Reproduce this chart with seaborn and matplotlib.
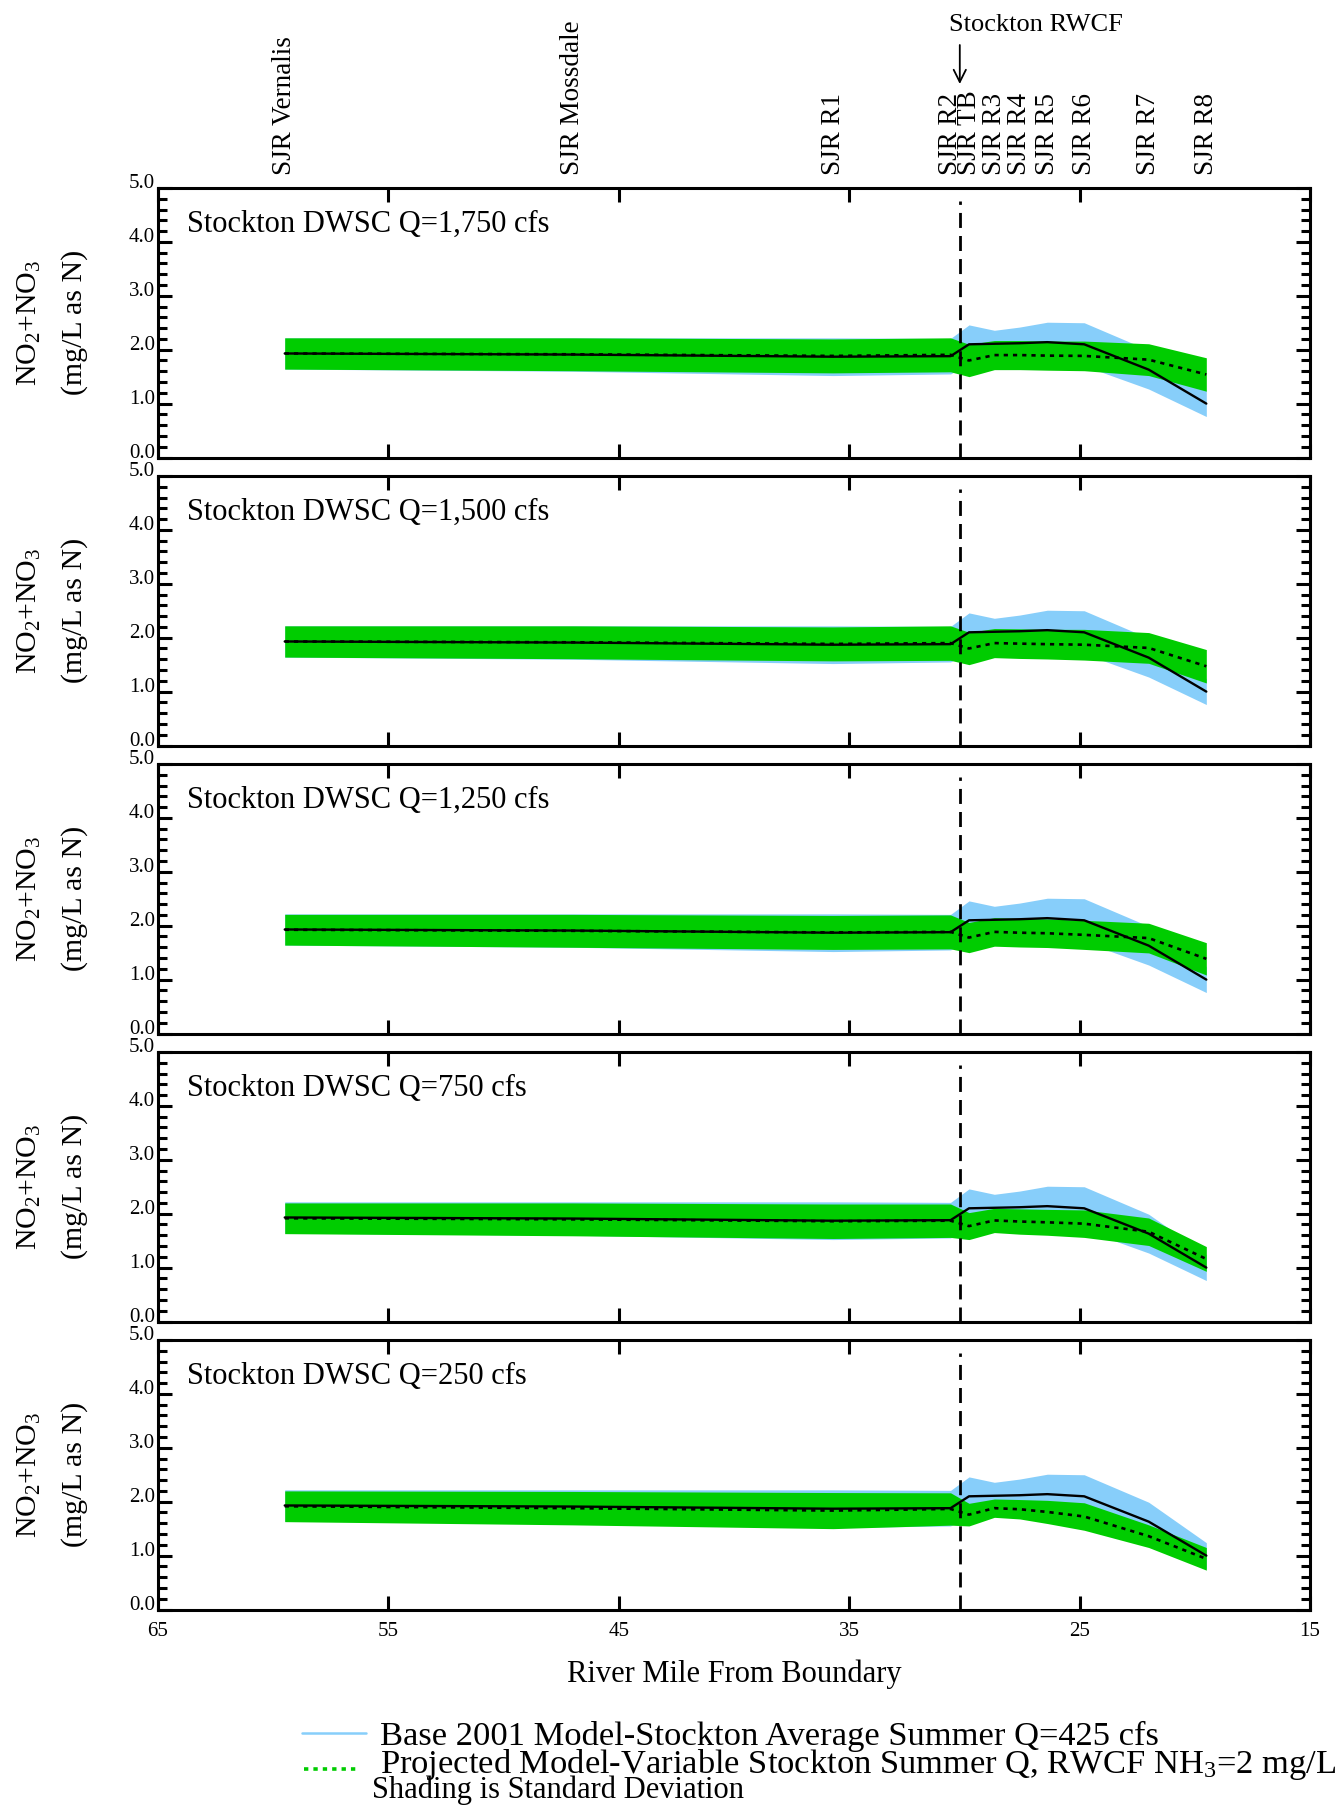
import numpy as np
import pandas as pd
import matplotlib
matplotlib.use("Agg")
import matplotlib.pyplot as plt
import seaborn as sns
from matplotlib.lines import Line2D
from matplotlib.ticker import FixedLocator, MultipleLocator

# ---------------- data ----------------
stations = ["SJR Vernalis", "SJR Mossdale", "SJR R1", "SJR R2", "SJR TB", "SJR R3",
            "SJR R4", "SJR R5", "SJR R6", "SJR R7", "SJR R8"]
river_mile = [59.5, 47.0, 35.7, 30.6, 29.8, 28.7, 27.6, 26.4, 24.8, 22.0, 19.5]

# Base 2001 model (same in every panel)
base_mean = [1.93, 1.91, 1.87, 1.88, 2.10, 2.11, 2.12, 2.14, 2.10, 1.63, 1.00]
base_sd = [0.29, 0.31, 0.35, 0.33, 0.36, 0.25, 0.30, 0.37, 0.40, 0.36, 0.24]

flows = ["1,750", "1,500", "1,250", "750", "250"]

proj_mean_1750 = [1.93, 1.915, 1.885, 1.905, 1.80, 1.90, 1.90, 1.89, 1.885, 1.815, 1.54]
proj_sd_1750 = [0.29, 0.305, 0.315, 0.315, 0.30, 0.27, 0.27, 0.27, 0.275, 0.295, 0.31]
proj_mean_1500 = [1.93, 1.915, 1.885, 1.90, 1.80, 1.90, 1.89, 1.88, 1.87, 1.81, 1.47]
proj_sd_1500 = [0.29, 0.305, 0.315, 0.32, 0.30, 0.27, 0.275, 0.275, 0.285, 0.285, 0.31]
proj_mean_1250 = [1.925, 1.905, 1.875, 1.885, 1.78, 1.885, 1.87, 1.86, 1.83, 1.77, 1.385]
proj_sd_1250 = [0.285, 0.305, 0.315, 0.315, 0.28, 0.265, 0.265, 0.265, 0.27, 0.275, 0.30]
proj_mean_750 = [1.915, 1.895, 1.86, 1.87, 1.77, 1.875, 1.855, 1.84, 1.815, 1.665, 1.16]
proj_sd_750 = [0.285, 0.305, 0.32, 0.31, 0.25, 0.225, 0.235, 0.24, 0.255, 0.255, 0.23]
proj_mean_250 = [1.915, 1.88, 1.835, 1.865, 1.76, 1.88, 1.86, 1.81, 1.725, 1.36, 0.94]
proj_sd_250 = [0.285, 0.31, 0.335, 0.30, 0.21, 0.17, 0.18, 0.215, 0.255, 0.21, 0.21]

proj_means = [proj_mean_1750, proj_mean_1500, proj_mean_1250, proj_mean_750, proj_mean_250]
proj_sds = [proj_sd_1750, proj_sd_1500, proj_sd_1250, proj_sd_750, proj_sd_250]

rwcf_mile = 30.2
rwcf_line_top = 4.75
x_ticks = [65, 55, 45, 35, 25, 15]
y_ticks = [0.0, 1.0, 2.0, 3.0, 4.0, 5.0]
y_tick_labels = ["0.0", "1.0", "2.0", "3.0", "4.0", "5.0"]

legend_labels = ["Base 2001 Model-Stockton Average Summer Q=425 cfs",
                 "Projected Model-Variable Stockton Summer Q, RWCF NH$_3$=2 mg/L"]
shading_note = "Shading is Standard Deviation"

# ---------------- style ----------------
sns.set_theme(style="ticks")
plt.rcParams["font.family"] = ["Liberation Serif", "DejaVu Serif"]
plt.rcParams["mathtext.fontset"] = "custom"
plt.rcParams["mathtext.rm"] = "Liberation Serif"
plt.rcParams["mathtext.it"] = "Liberation Serif:italic"
plt.rcParams["mathtext.bf"] = "Liberation Serif:bold"

BLUE = "#87CEFA"
GREEN = "#00CC00"

W, H = 1342, 1807
fig = plt.figure(figsize=(W / 100, H / 100), dpi=100)

left_px, right_px = 158, 1310
top0, step, height = 188, 288, 269.5

axes = []
for k in range(5):
    top = top0 + step * k
    ax = fig.add_axes([left_px / W, 1 - (top + height) / H,
                       (right_px - left_px) / W, height / H])
    axes.append(ax)

    df = pd.DataFrame({
        "mile": river_mile,
        "base": base_mean,
        "base_lo": np.array(base_mean) - np.array(base_sd),
        "base_hi": np.array(base_mean) + np.array(base_sd),
        "proj": proj_means[k],
        "proj_lo": np.array(proj_means[k]) - np.array(proj_sds[k]),
        "proj_hi": np.array(proj_means[k]) + np.array(proj_sds[k]),
    })

    ax.fill_between(df["mile"], df["base_lo"], df["base_hi"], color=BLUE, lw=0, zorder=1)
    ax.fill_between(df["mile"], df["proj_lo"], df["proj_hi"], color=GREEN, lw=0, zorder=2)
    sns.lineplot(data=df, x="mile", y="base", ax=ax, color="black", lw=1.7,
                 sort=False, estimator=None, zorder=4)
    sns.lineplot(data=df, x="mile", y="proj", ax=ax, color="black", lw=1.9,
                 linestyle=(0, (1.6, 1.9)), sort=False, estimator=None, zorder=5)
    ax.axvline(rwcf_mile, ymin=0, ymax=rwcf_line_top / 5.0, color="black", lw=2.0,
               linestyle=(0, (5.4, 2.9)), zorder=6)

    ax.set_xlim(65, 15)
    ax.set_ylim(0, 5)
    ax.xaxis.set_major_locator(FixedLocator(x_ticks))
    ax.set_yticks(y_ticks)
    ax.set_yticklabels(y_tick_labels)
    ax.yaxis.set_minor_locator(MultipleLocator(0.2))
    ax.tick_params(axis="both", which="both", direction="in", top=True, right=True,
                   color="black", width=2.2)
    ax.tick_params(axis="both", which="major", length=10)
    ax.tick_params(axis="y", which="minor", length=6.5)
    ax.tick_params(axis="x", which="minor", top=False, bottom=False)
    ax.tick_params(axis="y", labelsize=15, pad=2, labelcolor="black")
    ax.tick_params(axis="x", labelsize=15, pad=9, labelcolor="black")
    for lbl in ax.get_yticklabels():
        lbl.set_verticalalignment("baseline")
    for sp in ax.spines.values():
        sp.set_linewidth(2.2)
        sp.set_color("black")
        sp.set_visible(True)
    ax.set_ylabel("")
    ax.set_xlabel("")
    if k < 4:
        ax.tick_params(axis="x", labelbottom=False)

    ax.text(0.025, 0.838, f"Stockton DWSC Q={flows[k]} cfs", transform=ax.transAxes,
            fontsize=22, va="baseline", ha="left", color="black")

    yc = 1 - (top + height / 2) / H
    fig.text(29 / W, yc, "NO$_2$+NO$_3$", rotation=90, ha="center", va="center",
             fontsize=21.5, color="black")
    fig.text(75 / W, yc, "(mg/L as N)", rotation=90, ha="center", va="center",
             fontsize=21.5, color="black")

# station labels on top panel
top_ax = axes[0]
trans = top_ax.get_xaxis_transform()
for name, m in zip(stations, river_mile):
    top_ax.text(m, 1 + 13 / height, name, transform=trans, rotation=90,
                ha="center", va="bottom", fontsize=19.5, color="black")

# Stockton RWCF annotation
fig.text(1036 / W, 1 - 25 / H, "Stockton RWCF", ha="center", va="center",
         fontsize=19, color="black")
top_ax.annotate("", xy=(rwcf_mile, 1 - 84 / H), xytext=(rwcf_mile, 1 - 45 / H),
                xycoords=("data", "figure fraction"),
                textcoords=("data", "figure fraction"),
                arrowprops=dict(arrowstyle="->", lw=1.3, color="black",
                                mutation_scale=22, shrinkA=0, shrinkB=0),
                annotation_clip=False)

# x label
bottom_ax = axes[-1]
bottom_ax.set_xlabel("River Mile From Boundary", fontsize=22, color="black")
bottom_ax.xaxis.set_label_coords(0.5, -(1674 - 1609.3) / height)
bottom_ax.xaxis.label.set_verticalalignment("center")

# legend (manual)
fig.add_artist(Line2D([302 / W, 366 / W], [1 - 1733 / H] * 2, transform=fig.transFigure,
                      color=BLUE, lw=1.8))
fig.add_artist(Line2D([304 / W, 356 / W], [1 - 1769 / H] * 2, transform=fig.transFigure,
                      color=GREEN, lw=2.6, linestyle=(0, (1.2, 1.4))))
fig.text(380 / W, 1 - 1745 / H, legend_labels[0], fontsize=24.8, va="baseline",
         ha="left", color="black")
fig.text(380 / W, 1 - 1773 / H, legend_labels[1], fontsize=24.8, va="baseline",
         ha="left", color="black")
fig.text(372 / W, 1 - 1798 / H, shading_note, fontsize=22, va="baseline",
         ha="left", color="black")

fig.savefig("out.png", dpi=100, facecolor="white")
